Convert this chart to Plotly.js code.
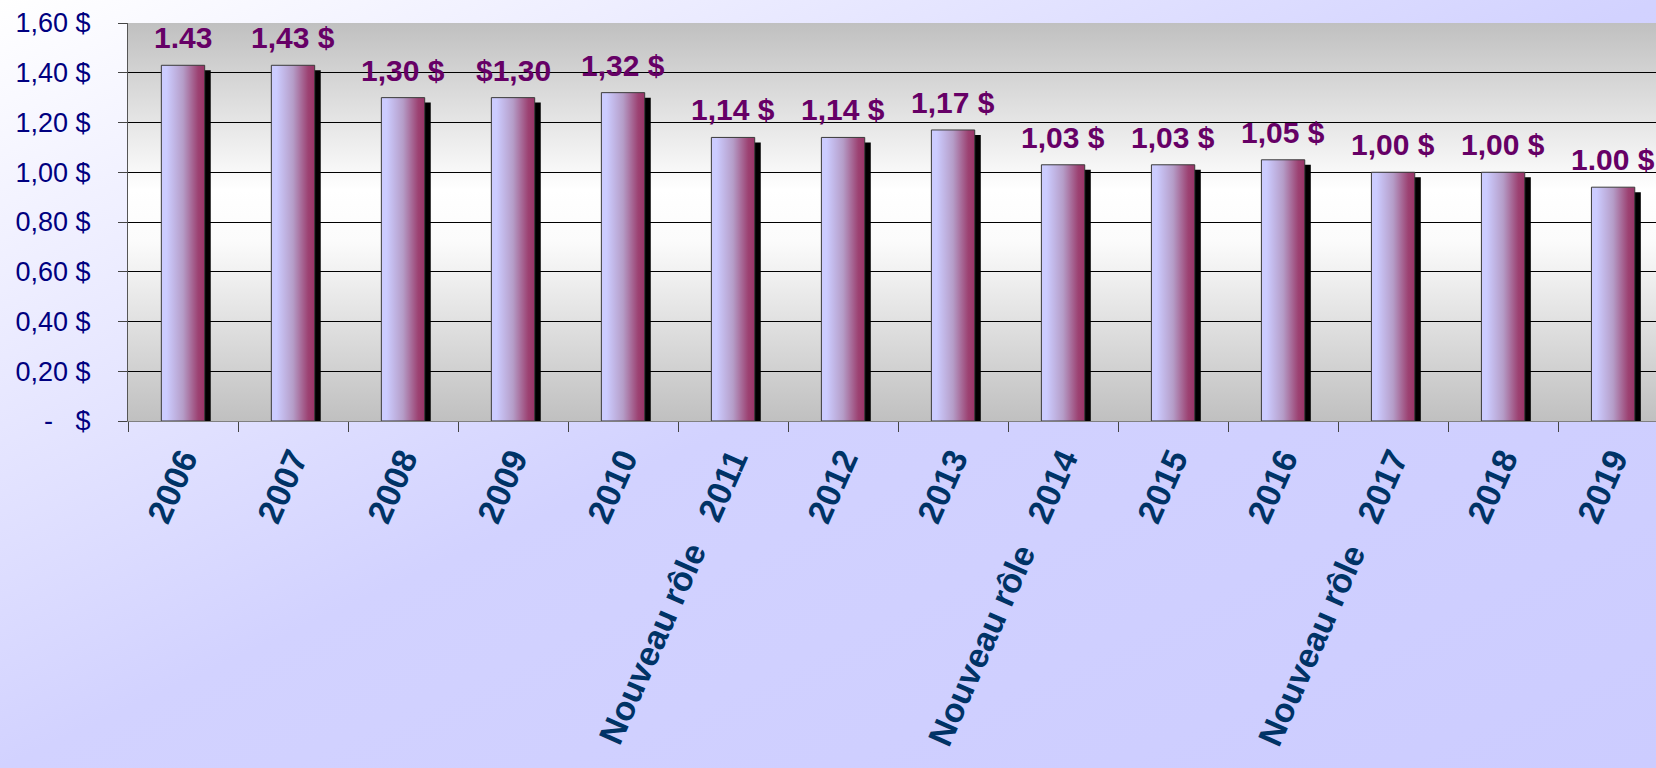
<!DOCTYPE html>
<html>
<head>
<meta charset="utf-8">
<script src="https://cdn.plot.ly/plotly-3.0.1.min.js"></script>
<style>
html, body { margin: 0; padding: 0; }
body {
  width: 1656px; height: 768px; overflow: hidden;
  background: linear-gradient(to bottom right, #ffffff 0%, #d2d2ff 50%, #ccccff 100%);
}
#chart { width: 1656px; height: 768px; }
</style>
</head>
<body>
<div id="chart"></div>
<script>
// ---- data ----
const years = ['2006','2007','2008','2009','2010','2011','2012','2013','2014','2015','2016','2017','2018','2019'];
const xLabels = ['2006','2007','2008','2009','2010',
  'Nouveau rôle\u00A0\u00A0\u00A02011','2012','2013',
  'Nouveau rôle\u00A0\u00A0\u00A02014','2015','2016',
  'Nouveau rôle\u00A0\u00A0\u00A02017','2018','2019'];
const values = [1.43, 1.43, 1.30, 1.30, 1.32, 1.14, 1.14, 1.17, 1.03, 1.03, 1.05, 1.00, 1.00, 0.94];
const dataLabels = ['1.43','1,43 $','1,30 $','$1,30','1,32 $','1,14 $','1,14 $','1,17 $','1,03 $','1,03 $','1,05 $','1,00 $','1,00 $','1.00 $'];
const yTickVals = [0, 0.2, 0.4, 0.6, 0.8, 1.0, 1.2, 1.4, 1.6];
const yTickText = ['-\u00A0\u00A0\u00A0$','0,20 $','0,40 $','0,60 $','0,80 $','1,00 $','1,20 $','1,40 $','1,60 $'];

const barW = 0.394;
const shadow = {
  type: 'bar', x: years, y: values, base: -0.02,
  width: barW, offset: -barW/2 + 0.055,
  marker: { color: '#000000', line: { width: 0 } },
  hoverinfo: 'skip', showlegend: false
};
const bars = {
  type: 'bar', x: years, y: values,
  width: barW, offset: -barW/2,
  marker: { color: '#b59dc8', line: { width: 1, color: '#3a3a3a' } },
  showlegend: false
};

const annotations = years.map((yr, i) => ({
  xref: 'x', yref: 'y',
  x: i, y: values[i], text: '<b>' + dataLabels[i] + '</b>',
  showarrow: false, yanchor: 'bottom', xanchor: 'center', yshift: 9,
  font: { family: 'Liberation Sans, Arial, sans-serif', size: 30, color: '#660066' }
}));

const layout = {
  width: 1656, height: 768,
  margin: { l: 128, r: 0, t: 23, b: 347, pad: 0 },
  paper_bgcolor: 'rgba(0,0,0,0)',
  plot_bgcolor: '#e0e0e0',
  barmode: 'overlay',
  showlegend: false,
  font: { family: 'Liberation Sans, Arial, sans-serif' },
  xaxis: {
    type: 'category',
    range: [-0.5, 13.39],
    tickmode: 'array', tickvals: years, ticktext: xLabels,
    tickson: 'boundaries',
    ticks: 'outside', ticklen: 10, tickcolor: '#444', tickwidth: 1,
    tickangle: -66,
    tickfont: { family: 'Liberation Sans, Arial, sans-serif', size: 34, color: '#003366', weight: 'bold' },
    showline: true, linecolor: '#808080', linewidth: 1,
    showgrid: false, zeroline: false, automargin: false,
    ticklabelstandoff: 4
  },
  yaxis: {
    range: [0, 1.6],
    tickmode: 'array', tickvals: yTickVals, ticktext: yTickText,
    ticks: 'outside', ticklen: 9, tickcolor: '#444', tickwidth: 1,
    tickfont: { family: 'Liberation Sans, Arial, sans-serif', size: 27, color: '#000080' },
    showline: true, linecolor: '#555', linewidth: 1,
    showgrid: true, gridcolor: '#000000', gridwidth: 1,
    zeroline: false, automargin: false,
    ticklabelstandoff: 22
  },
  annotations: annotations
};

const gd = document.getElementById('chart');
Plotly.newPlot(gd, [shadow, bars], layout, { staticPlot: true, displayModeBar: false }).then(() => {
  const ns = 'http://www.w3.org/2000/svg';
  const svg = gd.querySelector('svg.main-svg');
  let defs = svg.querySelector('defs');
  if (!defs) { defs = document.createElementNS(ns, 'defs'); svg.insertBefore(defs, svg.firstChild); }
  function addGrad(id, x2, y2, stops) {
    const g = document.createElementNS(ns, 'linearGradient');
    g.setAttribute('id', id);
    g.setAttribute('x1', '0'); g.setAttribute('y1', '0');
    g.setAttribute('x2', x2); g.setAttribute('y2', y2);
    stops.forEach(([o, c]) => {
      const s = document.createElementNS(ns, 'stop');
      s.setAttribute('offset', o); s.setAttribute('stop-color', c);
      g.appendChild(s);
    });
    defs.appendChild(g);
  }
  addGrad('barGrad', '1', '0', [[0, '#ccccff'], [0.12, '#ccccff'], [0.5, '#b59dc8'], [0.85, '#9c4272'], [1, '#993366']]);
  addGrad('bgGrad', '0', '1', [[0, '#c0c0c0'], [0.42, '#ffffff'], [0.55, '#fbfbfb'], [1, '#c0c0c0']]);
  const bg = gd.querySelector('.bglayer rect.bg');
  if (bg) bg.style.fill = 'url(#bgGrad)';
  const traces = gd.querySelectorAll('.barlayer .trace');
  if (traces[1]) traces[1].querySelectorAll('path').forEach(p => { p.style.fill = 'url(#barGrad)'; });
});
</script>
</body>
</html>
